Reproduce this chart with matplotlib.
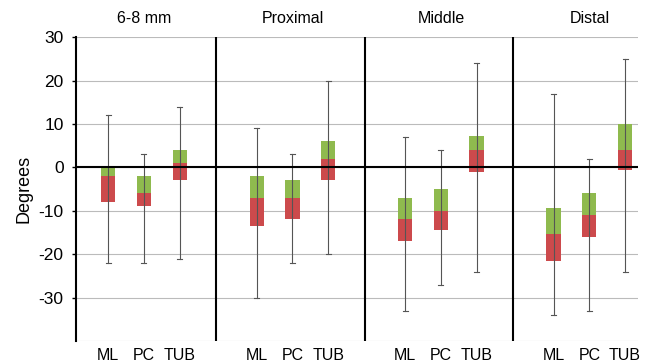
import numpy as np
import matplotlib.pyplot as plt

plt.rcParams['font.family'] = ['Liberation Sans', 'DejaVu Sans']
plt.rcParams['axes.unicode_minus'] = False

panels = ['6-8 mm', 'Proximal', 'Middle', 'Distal']
methods = ['ML', 'PC', 'TUB']

# per panel, per method: whisker low, Q1, median, Q3, whisker high
low = [[-22, -22, -21], [-30, -22, -20], [-33, -27, -24], [-34, -33, -24]]
q1 = [[-8, -9, -3], [-13.5, -12, -3], [-17, -14.5, -1], [-21.5, -16, -0.5]]
med = [[-2, -6, 1], [-7, -7, 2], [-12, -10, 4], [-15.3, -11, 4]]
q3 = [[0, -2, 4], [-2, -3, 6], [-7, -5, 7.2], [-9.3, -6, 10]]
high = [[12, 3, 14], [9, 3, 20], [7, 4, 24], [17, 2, 25]]

green = '#8fba4e'
red = '#cc4a4c'

fig = plt.figure(figsize=(6.47, 3.64), dpi=100)
ax = fig.add_axes([0.1175, 0.063, 0.868, 0.835])

gap = 4.15
for g in range(len(panels)):
    for i in range(len(methods)):
        x = g * gap + i
        ax.plot([x, x], [low[g][i], high[g][i]], color='#555555', lw=0.8, zorder=2)
        ax.plot([x - 0.07, x + 0.07], [low[g][i]] * 2, color='#555555', lw=0.8, zorder=2)
        ax.plot([x - 0.07, x + 0.07], [high[g][i]] * 2, color='#555555', lw=0.8, zorder=2)
        ax.bar(x, med[g][i] - q1[g][i], bottom=q1[g][i], width=0.4, color=red, zorder=1)
        ax.bar(x, q3[g][i] - med[g][i], bottom=med[g][i], width=0.4, color=green, zorder=1)
    ax.text(g * gap + 1, 32.5, panels[g], ha='center', va='bottom', fontsize=11.5)
    for i, m in enumerate(methods):
        ax.text(g * gap + i, -41.5, m, ha='center', va='top', fontsize=11.5)
    if g > 0:
        ax.axvline(g * gap - (gap - 2) / 2 - 0.05, color='black', lw=1.5, zorder=3)

ax.set_xlim(-0.9, 3 * gap + 2 + 0.35)
ax.set_ylim(-40, 30)
ax.set_yticks([-30, -20, -10, 0, 10, 20, 30])
ax.set_xticks([])
ax.set_axisbelow(True)
ax.grid(axis='y', color='#bbbbbb', lw=0.8, zorder=0)
ax.axhline(-40, color='#bbbbbb', lw=0.8, zorder=0)
ax.axhline(0, color='black', lw=1.5, zorder=3)
for s in ['top', 'right', 'bottom']:
    ax.spines[s].set_visible(False)
ax.spines['left'].set_linewidth(1.5)
ax.tick_params(axis='y', labelsize=12.5, length=3, width=1, pad=6)
ax.set_ylabel('Degrees', fontsize=13)

fig.savefig('out.png', dpi=100)
